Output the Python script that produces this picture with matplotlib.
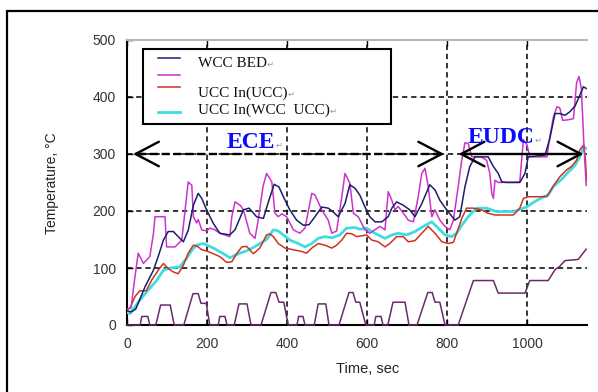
import matplotlib
matplotlib.use("Agg")
import matplotlib.pyplot as plt
from matplotlib.patches import Rectangle, FancyArrowPatch
from matplotlib.lines import Line2D

# ---------------- data ----------------
wcc_bed = [(0,25),(10,23),(22,28),(45,67),(66,96),(78,120),(91,149),(103,164),(116,164),
           (128,155),(141,146),(153,166),(166,210),(178,231),(187,222),(199,202),(216,178),
           (232,161),(257,158),(270,167),(291,202),(305,205),(324,190),(341,187),(353,215),
           (368,247),(380,242),(391,225),(407,202),(424,184),(441,175),(455,176),(470,190),
           (487,207),(503,205),(516,198),(528,190),(545,213),(557,246),(570,240),(582,228),
           (595,207),(607,190),(620,181),(637,181),(653,190),(662,205),(674,216),(691,210),
           (707,202),(720,190),(737,213),(757,246),(770,237),(782,219),(799,202),(820,184),
           (832,190),(845,243),(857,278),(870,295),(903,295),(916,278),(928,266),(937,251),
           (949,250),(982,250),(995,266),(1003,295),(1045,298),(1057,327),(1070,371),
           (1082,371),(1095,368),(1107,374),(1120,384),(1132,403),(1141,418),(1148,415)]

second_series = [(0,27),(10,30),(20,85),(28,126),(41,108),(57,120),(66,160),(70,190),(95,190),
                 (99,137),(120,137),(137,149),(145,200),(153,251),(162,245),(166,190),(174,179),
                 (178,185),(187,167),(199,165),(207,170),(220,167),(232,161),(257,155),(262,190),
                 (270,216),(283,210),(291,202),(307,161),(320,152),(328,184),(340,243),(349,266),
                 (362,251),(370,196),(378,190),(387,195),(399,190),(416,167),(432,161),(445,170),
                 (462,231),(470,228),(487,202),(503,184),(512,161),(524,165),(537,225),(545,266),
                 (557,249),(566,196),(578,190),(595,167),(607,161),(632,173),(645,167),(653,234),
                 (662,219),(670,202),(678,208),(691,196),(703,184),(716,181),(728,225),(737,266),
                 (745,275),(753,243),(762,190),(770,202),(782,184),(795,173),(807,167),(816,184),
                 (828,243),(837,290),(845,320),(853,318),(862,295),(886,295),(899,289),(907,266),
                 (912,231),(916,222),(920,254),(928,250),(982,251),(991,325),(1000,316),(1007,295),
                 (1050,295),(1057,330),(1066,365),(1075,383),(1082,381),(1089,359),(1103,360),
                 (1116,362),(1124,425),(1130,436),(1136,415),(1142,320),(1148,245)]

ucc_in_ucc = [(0,28),(8,30),(20,50),(32,60),(48,60),(62,79),(78,96),(91,108),(103,99),(116,93),
              (128,90),(141,105),(153,126),(166,140),(176,138),(187,132),(199,130),(216,125),
              (232,120),(249,110),(262,111),(274,125),(287,137),(299,138),(316,125),(332,135),
              (349,158),(357,160),(366,155),(378,143),(395,135),(416,132),(437,129),(449,126),
              (462,135),(478,143),(495,140),(512,135),(524,140),(537,149),(549,161),(562,160),
              (574,155),(599,158),(612,149),(628,146),(645,137),(657,143),(674,155),(691,155),
              (703,146),(720,148),(737,161),(753,173),(770,161),(787,146),(803,143),(816,145),
              (824,161),(837,187),(849,205),(866,205),(886,202),(903,196),(920,193),(966,193),
              (982,205),(991,222),(1003,225),(1049,225),(1057,234),(1070,248),(1082,260),
              (1099,272),(1111,278),(1124,289),(1132,307),(1142,316),(1146,290),(1149,252)]

ucc_in_wcc_ucc = [(0,22),(8,20),(28,40),(49,58),(74,78),(91,96),(108,100),(132,102),(149,117),
                  (162,131),(174,140),(191,143),(216,135),(241,125),(257,118),(282,126),(299,130),
                  (316,136),(349,150),(366,167),(378,165),(391,158),(407,149),(428,143),(445,137),
                  (462,143),(478,152),(495,155),(512,153),(532,158),(549,170),(570,171),(582,168),
                  (599,170),(612,164),(628,158),(645,152),(662,158),(678,161),(699,158),(720,164),
                  (741,173),(762,181),(778,170),(795,158),(812,155),(824,161),(837,175),(853,190),
                  (874,205),(899,205),(924,199),(966,199),(999,207),(1016,215),(1041,225),
                  (1053,228),(1066,243),(1087,256),(1103,268),(1120,280),(1132,295),(1142,312),
                  (1148,310)]

vehicle_speed = [(0,0),(33,0),(37,15),(52,15),(57,0),(72,0),(84,35),(108,35),(118,0),(142,0),
                 (165,55),(178,55),(185,38),(198,38),(207,0),(228,0),(232,15),(245,15),(250,0),
                 (268,0),(280,37),(300,37),(310,0),(335,0),(360,57),(372,57),(380,40),(392,40),
                 (403,0),(425,0),(429,15),(440,15),(445,0),(468,0),(478,37),(497,37),(505,0),
                 (530,0),(555,57),(565,57),(572,40),(582,40),(597,0),(618,0),(622,15),(635,15),
                 (640,0),(652,0),(665,40),(695,40),(705,0),(725,0),(752,57),(763,57),(770,40),
                 (782,40),(795,0),(828,0),(866,78),(916,78),(928,56),(995,56),(1007,78),(1053,78),
                 (1070,97),(1082,103),(1095,113),(1128,115),(1148,133)]

legend_labels = ["WCC BED", "", "UCC In(UCC)", "UCC In(WCC  UCC)"]
x_ticks = [0, 200, 400, 600, 800, 1000]
y_ticks = [0, 100, 200, 300, 400, 500]

# section markers: (label, start, end, arrow level, text x, text baseline, dashed)
sections = [("ECE", 8, 800, 300, 250, 310, True), ("EUDC", 822, 1148, 300, 852, 319, False)]

# ---------------- figure ----------------
W, H = 598, 392
fig = plt.figure(figsize=(W / 100, H / 100), dpi=100)
fig.patch.set_facecolor("white")

# outer frame
fig.add_artist(Rectangle((7 / W, -0.1), 1.2, (H - 11) / H + 0.1, transform=fig.transFigure,
                         fill=False, ec="black", lw=1.6))

ax = fig.add_axes([127 / W, 1 - 325 / H, 460 / W, 285 / H])
ax.set_xlim(0, 1150)
ax.set_ylim(0, 500)

def unzip(pairs):
    return [p[0] for p in pairs], [p[1] for p in pairs]

c_navy, c_mag, c_red, c_cyan, c_purp = "#1c1f6b", "#cc33cc", "#cc3322", "#40dde0", "#6a2a6e"

t, v = unzip(ucc_in_wcc_ucc); ax.plot(t, v, color=c_cyan, lw=2.0, zorder=3)
t, v = unzip(ucc_in_ucc); ax.plot(t, v, color=c_red, lw=1.1, zorder=4)
t, v = unzip(second_series); ax.plot(t, v, color=c_mag, lw=1.1, zorder=4)
t, v = unzip(wcc_bed); ax.plot(t, v, color=c_navy, lw=1.1, zorder=5)
t, v = unzip(vehicle_speed); ax.plot(t, v, color=c_purp, lw=1.1, zorder=5, clip_on=False)

# axes styling
ax.set_xticks(x_ticks)
ax.set_yticks(y_ticks)
ax.set_axisbelow(True)
ax.grid(True, color="black", ls=(0, (3.5, 2.5)), lw=1.1)
ax.yaxis.get_gridlines()[-1].set_visible(False)
ax.xaxis.get_gridlines()[0].set_visible(False)
ax.yaxis.get_gridlines()[0].set_visible(False)
for s in ["left", "bottom"]:
    ax.spines[s].set_color("black"); ax.spines[s].set_linewidth(1.5)
ax.spines["top"].set_color("#b8b8b8"); ax.spines["top"].set_linewidth(1.5)
ax.spines["right"].set_visible(False)
ax.tick_params(direction="in", length=4, width=1, top=True, colors="black")
ax.tick_params(axis="x", pad=9)
ax.tick_params(axis="y", pad=8)
for lab in ax.get_xticklabels() + ax.get_yticklabels():
    lab.set_fontfamily("Liberation Sans"); lab.set_fontsize(10); lab.set_color("#333333")

ax.set_xlabel("Time, sec", fontsize=10.5, family="Liberation Sans", color="#222222")
ax.xaxis.set_label_coords((368 - 127) / 460, (325 - 362) / 285)
ax.set_ylabel("Temperature, \u00b0C", fontsize=10, family="Liberation Sans", color="#222222")
ax.yaxis.set_label_coords((59 - 127) / 460, (325 - 183) / 285)

# arrows for ECE / EUDC sections (solid open heads, shaft dashed for ECE)
serif = ["Liberation Serif", "DejaVu Serif"]
head = "->,head_length=0.8,head_width=0.42"
for txt, a, b, lvl, tx, ty, dashed in sections:
    ax.plot([a + 20, b - 20], [lvl, lvl], color="black", lw=1.7,
            ls=(0, (3.5, 1.5)) if dashed else "-", zorder=6)
    ax.add_patch(FancyArrowPatch((a + 40, lvl), (a, lvl), arrowstyle=head, mutation_scale=21,
                                 color="black", lw=1.7, zorder=6))
    ax.add_patch(FancyArrowPatch((b - 40, lvl), (b, lvl), arrowstyle=head, mutation_scale=21,
                                 color="black", lw=1.7, zorder=6))
    tt = ax.text(tx, ty, txt, color="#0a0aff", fontsize=17, fontweight="bold", family=serif,
                 va="baseline", zorder=7)
    ax.annotate("\u21b5", xy=(1, 0.15), xycoords=tt, fontsize=6, color="#999999",
                family="DejaVu Sans", va="bottom", ha="left", zorder=7)

# legend box (drawn manually to match)
ax.add_patch(Rectangle((16 / 460, (325 - 124) / 285), 248 / 460, 75 / 285, transform=ax.transAxes,
                       fc="white", ec="black", lw=1.5, zorder=8))
line_rows = [58.3, 75, 86.7, 111.7]
text_rows = [63.3, None, 93.3, 110]
colors = [c_navy, c_mag, c_red, c_cyan]
widths = [1.1, 1.1, 1.1, 2.0]
for lab, ly, ty, c, w in zip(legend_labels, line_rows, text_rows, colors, widths):
    ax.add_line(Line2D([(158 - 127) / 460, (180 - 127) / 460], [(325 - ly) / 285] * 2,
                       transform=ax.transAxes, color=c, lw=w, zorder=9))
    if ty is not None and lab:
        tt = ax.text((198 - 127) / 460, (325 - ty) / 285, lab, transform=ax.transAxes,
                     fontsize=11, family=serif, va="center", ha="left", color="#111111", zorder=9)
        ax.annotate("\u21b5", xy=(1, 0.1), xycoords=tt, fontsize=6, color="#999999",
                    family="DejaVu Sans", va="bottom", ha="left", zorder=9)

fig.savefig("out.png", dpi=100, facecolor="white")
